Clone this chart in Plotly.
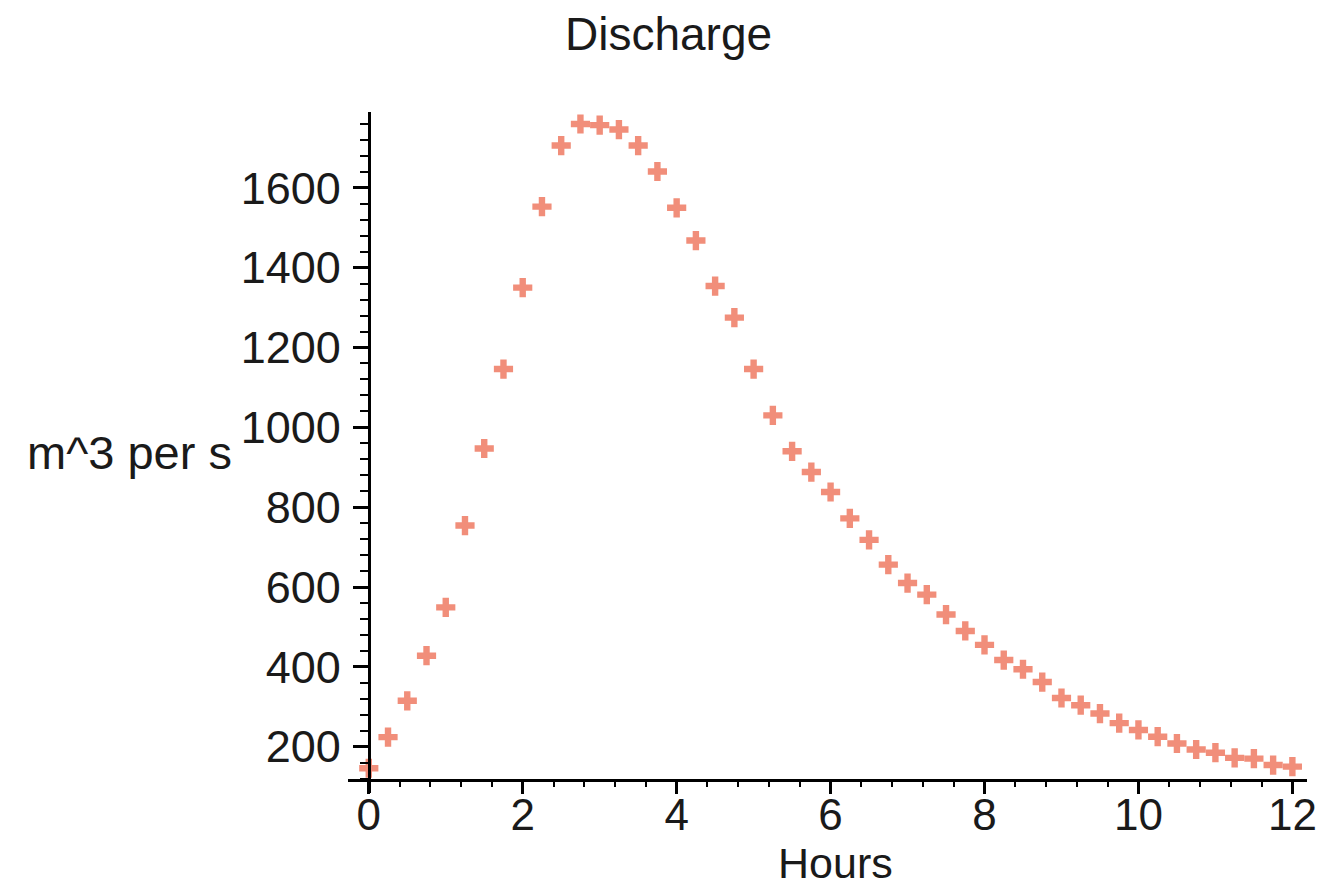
import plotly.graph_objects as go

hours = [0.00, 0.25, 0.50, 0.75, 1.00, 1.25, 1.50, 1.75, 2.00, 2.25, 2.50, 2.75,
         3.00, 3.25, 3.50, 3.75, 4.00, 4.25, 4.50, 4.75, 5.00, 5.25, 5.50, 5.75,
         6.00, 6.25, 6.50, 6.75, 7.00, 7.25, 7.50, 7.75, 8.00, 8.25, 8.50, 8.75,
         9.00, 9.25, 9.50, 9.75, 10.00, 10.25, 10.50, 10.75, 11.00, 11.25, 11.50,
         11.75, 12.00]
discharge = [146, 224, 315, 428, 549, 754, 947, 1146, 1350, 1553, 1706, 1760,
             1757, 1746, 1706, 1641, 1550, 1468, 1354, 1275, 1146, 1030, 940, 888,
             838, 772, 718, 656, 610, 581, 531, 490, 455, 417, 394, 362,
             322, 304, 283, 259, 242, 225, 208, 193, 185, 172, 170,
             154, 150]
x_ticks = [0, 2, 4, 6, 8, 10, 12]
y_ticks = [200, 400, 600, 800, 1000, 1200, 1400, 1600]

title_text = "Discharge"
x_label = "Hours"
y_label = "m^3 per s"

X_RANGE = [-0.27, 12.19]
Y_RANGE = [84, 1790]
X_AXIS_AT = 116.5   # y value where horizontal axis crosses
Y_AXIS_AT = 0.0     # x value where vertical axis crosses

FONT = "Liberation Sans, Arial, sans-serif"
TXT = "#1a1a1a"

fig = go.Figure()
fig.add_trace(go.Scatter(
    x=hours, y=discharge, mode="markers",
    marker=dict(symbol="cross", size=16, color="rgb(241,142,122)",
                line=dict(width=0)),
    showlegend=False, hoverinfo="x+y"))

xpos = (X_AXIS_AT - Y_RANGE[0]) / (Y_RANGE[1] - Y_RANGE[0])
ypos = (Y_AXIS_AT - X_RANGE[0]) / (X_RANGE[1] - X_RANGE[0])

fig.update_layout(
    width=1321, height=882,
    margin=dict(l=340, r=14, t=104, b=97),
    paper_bgcolor="white", plot_bgcolor="white",
    font=dict(family=FONT, color=TXT),
    xaxis=dict(
        range=X_RANGE, anchor="free", position=xpos,
        showgrid=False, zeroline=False,
        showline=True, linecolor="black", linewidth=3,
        tickmode="array", tickvals=x_ticks, ticktext=[str(v) for v in x_ticks],
        ticks="outside", ticklen=12, tickwidth=3, tickcolor="black",
        tickfont=dict(size=44, family=FONT, color=TXT),
        ticklabelstandoff=-17,
        minor=dict(tick0=0, dtick=0.4, ticks="outside", ticklen=5,
                   tickwidth=2, tickcolor="black"),
    ),
    yaxis=dict(
        range=Y_RANGE, anchor="free", position=ypos,
        showgrid=False, zeroline=False,
        showline=True, linecolor="black", linewidth=3,
        tickmode="array", tickvals=y_ticks, ticktext=[str(v) for v in y_ticks],
        ticks="outside", ticklen=15, tickwidth=3, tickcolor="black",
        tickfont=dict(size=45, family=FONT, color=TXT),
        ticklabelstandoff=3,
        minor=dict(tick0=0, dtick=40, ticks="outside", ticklen=8,
                   tickwidth=2, tickcolor="black"),
    ),
    annotations=[
        dict(text=title_text, xref="paper", yref="paper",
             x=0.3345, y=1.115, xanchor="center", yanchor="middle",
             showarrow=False, font=dict(size=46, family=FONT, color=TXT)),
        dict(text=x_label, xref="paper", yref="paper",
             x=0.508, y=-0.103, xanchor="center", yanchor="middle",
             showarrow=False, font=dict(size=43, family=FONT, color=TXT)),
        dict(text=y_label, xref="paper", yref="paper",
             x=-0.337, y=0.5, xanchor="left", yanchor="middle",
             showarrow=False, font=dict(size=47, family=FONT, color=TXT)),
    ],
)

fig.write_html("out.html")
